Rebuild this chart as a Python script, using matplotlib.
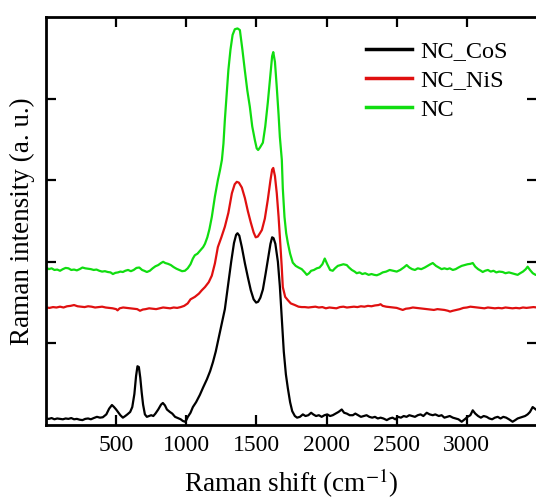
import matplotlib
matplotlib.use("Agg")
import matplotlib.pyplot as plt

plt.rcParams["font.family"] = ["Liberation Serif", "DejaVu Serif"]
plt.rcParams["mathtext.fontset"] = "stix"

# Raman spectra (vertically offset intensities, arbitrary units)
cos_shift = [0, 20, 40, 60, 80, 100, 120, 140, 160, 180, 200, 220, 240, 260, 280, 300,
             320, 340, 363, 385, 405, 430, 450, 470, 485, 500, 513, 530, 548, 565, 580,
             600, 615, 630, 642, 652, 662, 672, 682, 692, 705, 719, 735, 750, 765, 780,
             800, 820, 833, 848, 862, 883, 900, 920, 940, 960, 975, 990, 1000, 1011,
             1030, 1047, 1070, 1097, 1120, 1147, 1170, 1190, 1210, 1230, 1250, 1275,
             1300, 1320, 1340, 1355, 1365, 1378, 1396, 1418, 1439, 1460, 1480, 1498,
             1512, 1528, 1546, 1565, 1585, 1600, 1612, 1622, 1635, 1653, 1667, 1681,
             1695, 1710, 1724, 1740, 1755, 1774, 1790, 1810, 1831, 1850, 1870, 1890,
             1905, 1925, 1945, 1965, 1985, 2005, 2025, 2044, 2065, 2085, 2108, 2125,
             2144, 2165, 2187, 2205, 2225, 2245, 2265, 2285, 2305, 2325, 2345, 2365,
             2385, 2405, 2429, 2450, 2470, 2490, 2510, 2530, 2550, 2570, 2590, 2610,
             2630, 2650, 2670, 2690, 2714, 2735, 2757, 2775, 2800, 2820, 2840, 2860,
             2878, 2900, 2920, 2940, 2963, 2985, 3005, 3025, 3042, 3060, 3080, 3100,
             3120, 3141, 3160, 3180, 3200, 3220, 3240, 3260, 3280, 3300, 3326, 3345,
             3362, 3380, 3398, 3415, 3433, 3450, 3469, 3485, 3500]
cos_int = [0.08, 0.075, 0.085, 0.07, 0.08, 0.075, 0.07, 0.08, 0.075, 0.085, 0.07, 0.075,
           0.065, 0.06, 0.075, 0.08, 0.07, 0.085, 0.10, 0.09, 0.095, 0.13, 0.20, 0.245,
           0.22, 0.19, 0.16, 0.12, 0.09, 0.11, 0.13, 0.16, 0.22, 0.38, 0.60, 0.72, 0.71,
           0.58, 0.40, 0.25, 0.13, 0.10, 0.11, 0.12, 0.11, 0.14, 0.19, 0.25, 0.27, 0.24,
           0.19, 0.16, 0.14, 0.10, 0.085, 0.07, 0.05, 0.04, 0.06, 0.10, 0.15, 0.22, 0.28,
           0.37, 0.46, 0.56, 0.66, 0.77, 0.90, 1.06, 1.22, 1.42, 1.74, 2.00, 2.23, 2.33,
           2.35, 2.32, 2.18, 1.98, 1.81, 1.65, 1.54, 1.50, 1.51, 1.56, 1.66, 1.85, 2.06,
           2.22, 2.30, 2.29, 2.22, 2.00, 1.70, 1.29, 0.90, 0.62, 0.45, 0.28, 0.17, 0.11,
           0.09, 0.10, 0.13, 0.11, 0.12, 0.15, 0.13, 0.11, 0.12, 0.10, 0.12, 0.13, 0.11,
           0.12, 0.14, 0.16, 0.19, 0.15, 0.14, 0.12, 0.12, 0.14, 0.12, 0.10, 0.11, 0.12,
           0.10, 0.09, 0.10, 0.08, 0.09, 0.08, 0.06, 0.08, 0.09, 0.07, 0.10, 0.09, 0.11,
           0.10, 0.12, 0.11, 0.10, 0.12, 0.13, 0.11, 0.15, 0.13, 0.12, 0.13, 0.11, 0.12,
           0.09, 0.10, 0.11, 0.09, 0.08, 0.07, 0.04, 0.07, 0.10, 0.12, 0.18, 0.14, 0.11,
           0.09, 0.11, 0.10, 0.08, 0.07, 0.09, 0.10, 0.08, 0.10, 0.09, 0.07, 0.04, 0.06,
           0.08, 0.09, 0.10, 0.11, 0.13, 0.16, 0.22, 0.20, 0.18]

nis_shift = [0, 25, 50, 75, 100, 125, 150, 175, 200, 225, 250, 275, 300, 325, 350, 375,
             400, 425, 450, 475, 500, 510, 525, 550, 575, 600, 625, 650, 670, 690, 710,
             735, 760, 785, 810, 835, 860, 885, 910, 935, 960, 985, 1010, 1030, 1061,
             1090, 1110, 1133, 1160, 1182, 1204, 1225, 1250, 1275, 1300, 1325, 1345,
             1360, 1375, 1396, 1418, 1439, 1460, 1480, 1495, 1510, 1525, 1539, 1560,
             1581, 1600, 1612, 1620, 1632, 1645, 1658, 1667, 1680, 1688, 1705, 1724,
             1745, 1774, 1800, 1823, 1845, 1870, 1895, 1920, 1945, 1970, 1995, 2020,
             2045, 2070, 2095, 2120, 2145, 2170, 2195, 2220, 2245, 2270, 2295, 2320,
             2345, 2370, 2385, 2400, 2425, 2450, 2475, 2500, 2525, 2543, 2565, 2590,
             2615, 2640, 2665, 2690, 2715, 2740, 2765, 2790, 2815, 2840, 2865, 2880,
             2900, 2925, 2950, 2975, 3000, 3025, 3050, 3075, 3100, 3125, 3150, 3175,
             3200, 3225, 3250, 3275, 3300, 3325, 3350, 3375, 3400, 3425, 3450, 3475,
             3500]
nis_int = [1.44, 1.435, 1.445, 1.44, 1.45, 1.44, 1.455, 1.46, 1.47, 1.455, 1.45, 1.445,
           1.455, 1.45, 1.44, 1.445, 1.45, 1.44, 1.435, 1.43, 1.42, 1.405, 1.43, 1.44,
           1.435, 1.43, 1.425, 1.42, 1.40, 1.415, 1.42, 1.43, 1.425, 1.42, 1.43, 1.44,
           1.435, 1.43, 1.44, 1.435, 1.445, 1.46, 1.49, 1.54, 1.57, 1.61, 1.65, 1.69,
           1.75, 1.83, 1.98, 2.18, 2.30, 2.43, 2.60, 2.84, 2.95, 2.98, 2.97, 2.91, 2.78,
           2.62, 2.48, 2.36, 2.30, 2.31, 2.35, 2.39, 2.53, 2.76, 3.00, 3.13, 3.15, 3.05,
           2.84, 2.55, 2.30, 1.95, 1.69, 1.57, 1.53, 1.49, 1.47, 1.45, 1.445, 1.445, 1.44,
           1.445, 1.45, 1.44, 1.445, 1.43, 1.44, 1.435, 1.43, 1.445, 1.45, 1.44, 1.445,
           1.45, 1.445, 1.455, 1.45, 1.46, 1.455, 1.465, 1.47, 1.48, 1.46, 1.45, 1.445,
           1.44, 1.435, 1.42, 1.41, 1.425, 1.43, 1.44, 1.435, 1.43, 1.425, 1.42, 1.415,
           1.41, 1.42, 1.415, 1.41, 1.40, 1.39, 1.40, 1.41, 1.42, 1.435, 1.44, 1.45,
           1.445, 1.44, 1.435, 1.43, 1.44, 1.435, 1.43, 1.435, 1.43, 1.44, 1.435, 1.43,
           1.435, 1.43, 1.44, 1.435, 1.44, 1.445, 1.44]

nc_shift = [0, 20, 40, 60, 80, 100, 120, 140, 160, 180, 200, 220, 240, 260, 280, 300,
            320, 340, 360, 380, 400, 420, 440, 460, 477, 495, 513, 530, 548, 565, 585,
            605, 625, 645, 665, 685, 700, 719, 740, 760, 780, 800, 820, 835, 850, 870,
            890, 910, 930, 950, 970, 990, 1010, 1030, 1047, 1061, 1080, 1100, 1120,
            1133, 1150, 1165, 1182, 1204, 1225, 1240, 1254, 1265, 1275, 1288, 1300,
            1315, 1330, 1346, 1365, 1382, 1400, 1417, 1435, 1453, 1470, 1489, 1502,
            1512, 1525, 1546, 1563, 1581, 1600, 1612, 1620, 1632, 1645, 1658, 1667,
            1681, 1688, 1700, 1712, 1724, 1740, 1759, 1780, 1800, 1823, 1845, 1859,
            1875, 1890, 1910, 1930, 1950, 1970, 1987, 2005, 2025, 2044, 2060, 2080,
            2100, 2120, 2144, 2160, 2180, 2200, 2215, 2235, 2255, 2275, 2300, 2320,
            2340, 2358, 2380, 2400, 2425, 2450, 2475, 2500, 2525, 2550, 2571, 2590,
            2610, 2630, 2650, 2675, 2700, 2720, 2740, 2757, 2780, 2800, 2820, 2840,
            2860, 2878, 2900, 2920, 2940, 2963, 2985, 3005, 3025, 3042, 3060, 3080,
            3100, 3113, 3130, 3150, 3170, 3190, 3210, 3230, 3255, 3275, 3300, 3320,
            3340, 3362, 3380, 3400, 3420, 3433, 3450, 3470, 3490, 3500]
nc_int = [1.93, 1.91, 1.92, 1.90, 1.905, 1.89, 1.91, 1.925, 1.92, 1.90, 1.905, 1.895,
          1.91, 1.93, 1.92, 1.915, 1.91, 1.90, 1.905, 1.89, 1.88, 1.885, 1.875, 1.87,
          1.85, 1.865, 1.87, 1.88, 1.875, 1.89, 1.90, 1.885, 1.90, 1.925, 1.93, 1.90,
          1.89, 1.875, 1.89, 1.92, 1.945, 1.96, 1.985, 2.00, 1.985, 1.975, 1.96, 1.935,
          1.915, 1.90, 1.885, 1.89, 1.92, 1.97, 2.04, 2.08, 2.10, 2.14, 2.18, 2.22,
          2.30, 2.40, 2.55, 2.80, 3.00, 3.12, 3.25, 3.45, 3.74, 4.05, 4.35, 4.60, 4.78,
          4.85, 4.86, 4.84, 4.60, 4.35, 4.10, 3.90, 3.66, 3.49, 3.39, 3.37, 3.40, 3.46,
          3.66, 3.95, 4.30, 4.52, 4.57, 4.45, 4.14, 3.80, 3.53, 3.25, 2.90, 2.55, 2.35,
          2.23, 2.10, 1.99, 1.95, 1.93, 1.91, 1.87, 1.84, 1.86, 1.89, 1.90, 1.92, 1.93,
          1.97, 2.04, 1.97, 1.90, 1.89, 1.92, 1.95, 1.96, 1.97, 1.96, 1.93, 1.90, 1.88,
          1.86, 1.87, 1.85, 1.86, 1.84, 1.85, 1.84, 1.835, 1.85, 1.87, 1.88, 1.90, 1.89,
          1.88, 1.90, 1.93, 1.96, 1.93, 1.91, 1.90, 1.92, 1.91, 1.93, 1.95, 1.97, 1.985,
          1.95, 1.93, 1.91, 1.92, 1.91, 1.92, 1.90, 1.91, 1.93, 1.95, 1.96, 1.97, 1.975,
          1.985, 1.94, 1.91, 1.89, 1.875, 1.89, 1.90, 1.88, 1.89, 1.87, 1.88, 1.875,
          1.86, 1.87, 1.86, 1.85, 1.84, 1.86, 1.88, 1.91, 1.94, 1.90, 1.86, 1.84, 1.84]

labels = ["NC_CoS", "NC_NiS", "NC"]
colors = ["#000000", "#e01010", "#10dd10"]
x_ticks = [500, 1000, 1500, 2000, 2500, 3000]
y_ticks = [1, 2, 3, 4]

W, H = 536, 501
fig = plt.figure(figsize=(W / 100, H / 100), dpi=100)
ax = fig.add_axes([46 / W, 1 - 425 / H, (537 - 46) / W, (425 - 17) / H])

for xs, ys, lab, col in zip([cos_shift, nis_shift, nc_shift],
                            [cos_int, nis_int, nc_int], labels, colors):
    ax.plot(xs, ys, color=col, lw=1.6, label=lab)

ax.set_xlim(0, 3500)
ax.set_ylim(0, 5)
ax.set_xticks(x_ticks)
ax.set_yticks(y_ticks)
ax.set_yticklabels([])
ax.tick_params(direction="in", length=7, width=1.6, top=True, right=True,
               labelsize=17, pad=7)
for s in ax.spines.values():
    s.set_linewidth(2.0)

ax.set_xlabel("Raman shift (cm$^{-1}$)", fontsize=19.5, labelpad=8)
ax.set_ylabel("Raman intensity (a. u.)", fontsize=19.5, labelpad=1)

leg = ax.legend(loc="upper right", frameon=False, fontsize=17.5, handlelength=1.9,
                handletextpad=0.35, labelspacing=0.3, bbox_to_anchor=(0.985, 0.997))
for h in leg.get_lines():
    h.set_linewidth(2.5)

fig.savefig("out.png", dpi=100)
